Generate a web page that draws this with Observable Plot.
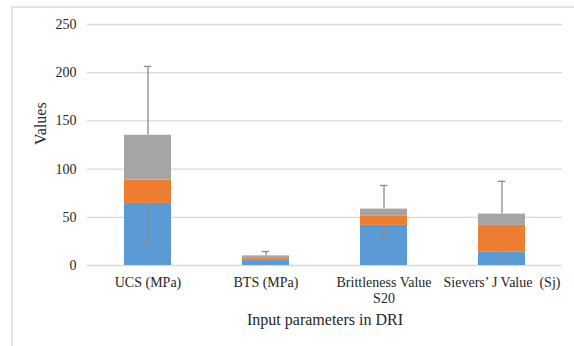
<!DOCTYPE html>
<html>
<head>
<meta charset="utf-8">
<script src="https://cdn.jsdelivr.net/npm/d3@7"></script>
<script src="https://cdn.jsdelivr.net/npm/@observablehq/plot@0.6"></script>
<style>
  html, body { margin: 0; padding: 0; background: #fff; }
  #wrap { position: relative; width: 574px; height: 346px; overflow: hidden; }
  #border { position: absolute; left: 11px; top: 6px; right: -4px; bottom: -4px; border-left: 2px solid #e3e3e3; border-top: 2px solid #e3e3e3; pointer-events: none; }
  #wrap svg { position: absolute; left: 0; top: 0; font-family: "Liberation Serif", "Times New Roman", serif !important; }
  #wrap svg text { font-family: "Liberation Serif", "Times New Roman", serif !important; }
</style>
</head>
<body>
<div id="wrap"><div id="border"></div></div>
<script>
const categories = ["UCS (MPa)", "BTS (MPa)", "Brittleness Value\nS20", "Sievers’ J Value\u00a0 (Sj)"];
const seriesNames = ["Lower", "Middle", "Upper"];
const lowerValues  = [64.4, 6.0, 41.6, 14.2];
const middleValues = [24.3, 2.0, 9.4, 27.4];
const upperValues  = [46.4, 2.0, 7.5, 11.7];
const minValues = [24, 3.8, 30, 4];
const maxValues = [206.5, 14.5, 83, 87.3];
const yTicks = [0, 50, 100, 150, 200, 250];
const colors = ["#5b9bd5", "#ed7d31", "#a5a5a5"];

const seriesValues = [lowerValues, middleValues, upperValues];
const stacked = [];
seriesNames.forEach((s, si) => categories.forEach((c, ci) => stacked.push({cat: c, series: s, value: seriesValues[si][ci]})));
const errors = categories.map((c, i) => ({
  cat: c,
  lowTop: lowerValues[i],
  total: lowerValues[i] + middleValues[i] + upperValues[i],
  min: minValues[i],
  max: maxValues[i]
}));

const font = "Liberation Serif";
const capInset = 19.75;
const errColor = "#8a8a8a";

const chart = Plot.plot({
  width: 574,
  height: 346,
  marginLeft: 87,
  marginRight: 12,
  marginTop: 24,
  marginBottom: 81,
  style: {fontSize: "14px", color: "#262626", background: "transparent"},
  x: {domain: categories, paddingInner: 0.6, paddingOuter: 0.3, label: null},
  y: {domain: [0, 250], ticks: yTicks, label: null},
  color: {domain: seriesNames, range: colors},
  marks: [
    Plot.gridY(yTicks, {stroke: "#d9d9d9", strokeOpacity: 1, strokeWidth: 1.3}),
    Plot.axisY(yTicks, {tickSize: 0, tickPadding: 11, fontSize: 14, fontFamily: font, fill: "#262626", label: null}),
    Plot.axisX({tickSize: 0, tickPadding: 11, fontSize: 14, fontFamily: font, fill: "#262626", lineHeight: 1.1, label: null}),
    Plot.barY(stacked, {x: "cat", y: "value", fill: "series", order: seriesNames}),
    Plot.ruleX(errors, {x: "cat", y1: "min", y2: "lowTop", stroke: errColor, strokeWidth: 1.3}),
    Plot.ruleX(errors, {x: "cat", y1: "total", y2: "max", stroke: errColor, strokeWidth: 1.3}),
    Plot.tickY(errors, {x: "cat", y: "min", stroke: errColor, strokeWidth: 1.3, insetLeft: capInset, insetRight: capInset}),
    Plot.tickY(errors, {x: "cat", y: "max", stroke: errColor, strokeWidth: 1.3, insetLeft: capInset, insetRight: capInset}),
    Plot.text(["Values"], {frameAnchor: "left", rotate: -90, dx: -47, fontSize: 16, fontFamily: font, fill: "#262626"}),
    Plot.text(["Input parameters in DRI"], {frameAnchor: "bottom", dy: 59, fontSize: 16, fontFamily: font, fill: "#262626"})
  ]
});
document.getElementById("wrap").appendChild(chart);
</script>
</body>
</html>
